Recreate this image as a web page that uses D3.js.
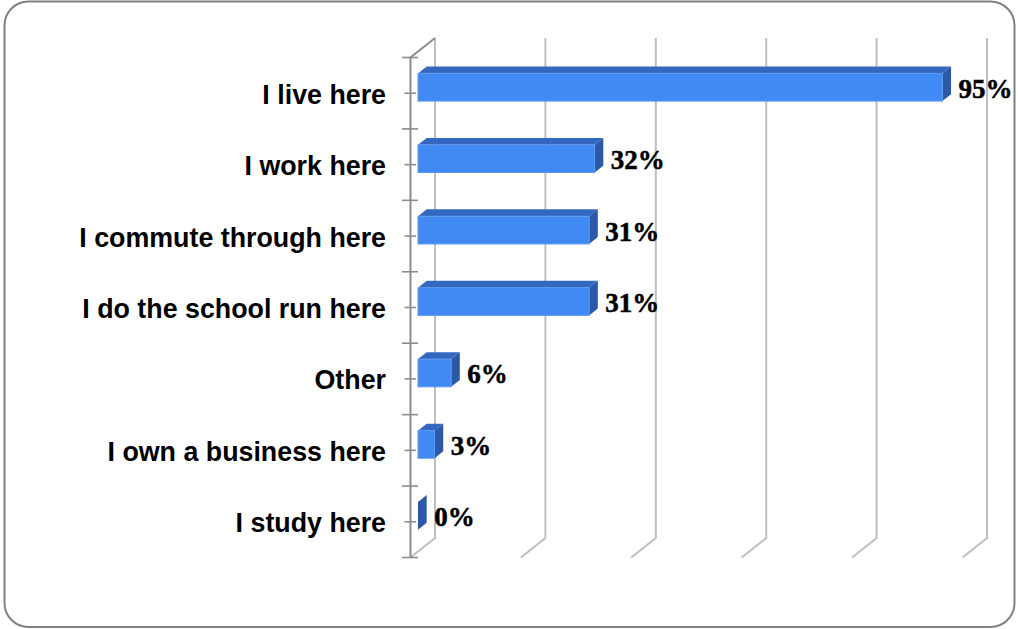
<!DOCTYPE html>
<html>
<head>
<meta charset="utf-8">
<script src="https://cdn.jsdelivr.net/npm/d3@7"></script>
<style>
  html, body { margin: 0; padding: 0; background: #fff; }
  svg { display: block; }
</style>
</head>
<body>
<svg id="chart" width="1018" height="629"></svg>
<script>
// Survey responses: connection to the area (percent of respondents)
const categories = [
  "I live here",
  "I work here",
  "I commute through here",
  "I do the school run here",
  "Other",
  "I own a business here",
  "I study here"
];
const values = [95, 32, 31, 31, 6, 3, 0];
const gridTicks = [0, 20, 40, 60, 80, 100];

const svg = d3.select("#chart");

// Outer rounded frame
svg.append("rect")
  .attr("x", 4.5).attr("y", 1.5)
  .attr("width", 1010).attr("height", 625.5)
  .attr("rx", 24).attr("ry", 24)
  .attr("fill", "#fff")
  .attr("stroke", "#808080")
  .attr("stroke-width", 2);

// Back wall of the 3D plot and the depth offset to the front plane
const back = { left: 435, right: 987, top: 38, bottom: 538 };
const depth = { dx: -24.5, dy: 19.5 };
const proj = (x, y, t) => [x + depth.dx * t, y + depth.dy * t];

const x = d3.scaleLinear().domain([0, 100]).range([back.left, back.right]);
const y = d3.scaleBand().domain(categories).range([back.top, back.bottom])
  .paddingInner(0.612).paddingOuter(0.306);
const band = d3.scaleBand().domain(categories).range([back.top, back.bottom]);

// Bars sit between these depth fractions (0 = back wall, 1 = front plane)
const tBack = 0.34, tFront = 0.694;

const grid = svg.append("g");
// Vertical gridlines on the back wall with floor diagonals
gridTicks.forEach(v => {
  const gx = x(v);
  const [fx, fy] = proj(gx, back.bottom, 1);
  grid.append("path")
    .attr("d", `M${gx},${back.top}L${gx},${back.bottom}L${fx},${fy}`)
    .attr("fill", "none")
    .attr("stroke", "#bfbfbf")
    .attr("stroke-width", 2);
});

// Category axis on the front plane
const axisX = back.left + depth.dx;
const axisTop = back.top + depth.dy, axisBottom = back.bottom + depth.dy;
const axisG = svg.append("g");
axisG.append("path")
  .attr("d", `M${back.left},${back.top}L${axisX},${axisTop}L${axisX},${axisBottom}`)
  .attr("fill", "none")
  .attr("stroke", "#8c8c8c")
  .attr("stroke-width", 2);

// Ticks at band boundaries and band centres
const boundaries = categories.map(c => band(c)).concat([back.bottom]);
boundaries.forEach(b => {
  axisG.append("line")
    .attr("x1", axisX - 8.5).attr("x2", axisX + 7.5)
    .attr("y1", b + depth.dy).attr("y2", b + depth.dy)
    .attr("stroke", "#8c8c8c").attr("stroke-width", 1.6);
});
categories.forEach(c => {
  const cy = band(c) + band.bandwidth() / 2 + depth.dy;
  axisG.append("line")
    .attr("x1", axisX - 6).attr("x2", axisX + 5.5)
    .attr("y1", cy).attr("y2", cy)
    .attr("stroke", "#8c8c8c").attr("stroke-width", 1.6);
});

// Category labels
svg.append("g").selectAll("text")
  .data(categories)
  .join("text")
  .attr("x", 386)
  .attr("y", c => band(c) + band.bandwidth() / 2 + depth.dy + 10.5)
  .attr("text-anchor", "end")
  .attr("font-family", "Liberation Sans, Arial, sans-serif")
  .attr("font-weight", "bold")
  .attr("font-size", 26.8)
  .attr("fill", "#000")
  .text(c => c);

// 3D bars: top face, side face, front face
const bars = svg.append("g");
const pts = a => a.map(p => p.join(",")).join(" ");
categories.forEach((c, i) => {
  const v = values[i];
  const x0 = x(0), x1 = x(v);
  const y0 = y(c), y1 = y(c) + y.bandwidth();
  const fTL = proj(x0, y0, tFront), fTR = proj(x1, y0, tFront);
  const fBR = proj(x1, y1, tFront), fBL = proj(x0, y1, tFront);
  const bTL = proj(x0, y0, tBack), bTR = proj(x1, y0, tBack);
  const bBR = proj(x1, y1, tBack);
  bars.append("polygon")
    .attr("points", pts([fTL, fTR, bTR, bTL]))
    .attr("fill", "#3468c0");
  bars.append("polygon")
    .attr("points", pts([fTR, bTR, bBR, fBR]))
    .attr("fill", "#2c58a8");
  if (v > 0) {
    bars.append("rect")
      .attr("x", fTL[0]).attr("y", fTL[1])
      .attr("width", fTR[0] - fTL[0]).attr("height", fBL[1] - fTL[1])
      .attr("fill", "#4189f3")
      .attr("stroke", "#5c9af2")
      .attr("stroke-width", 1);
  }
});

// Value labels
svg.append("g").selectAll("text")
  .data(categories)
  .join("text")
  .attr("x", (c, i) => proj(x(values[i]), 0, tBack)[0] + 7.5)
  .attr("y", c => proj(0, y(c) + y.bandwidth() / 2, tFront)[1] + 10.5)
  .attr("font-family", "Liberation Serif, Times New Roman, serif")
  .attr("font-weight", "bold")
  .attr("font-size", 27)
  .attr("fill", "#000")
  .attr("stroke", "#000")
  .attr("stroke-width", 0.5)
  .text((c, i) => values[i] + "%");
</script>
</body>
</html>
